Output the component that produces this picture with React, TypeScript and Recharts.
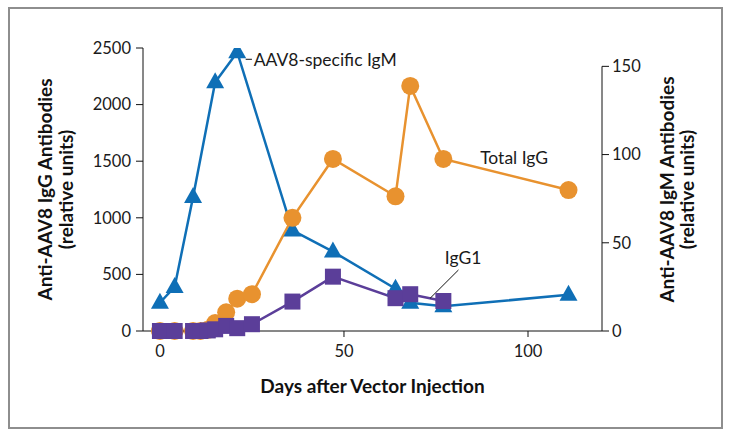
import React from "react";
import {
  LineChart, Line, XAxis, YAxis, ReferenceLine, ReferenceDot, Label,
} from "recharts";

// days after vector injection
const igmDays = [0, 4, 9, 15, 21, 36, 47, 64, 68, 77, 111];
const igmValues = [16, 25, 76, 141, 158, 57, 45, 24, 16, 14, 20.5];

const totalIgGDays = [0, 4, 9, 11, 13, 15, 18, 21, 25, 36, 47, 64, 68, 77, 111];
const totalIgGValues = [0, 0, 0, 0, 10, 70, 165, 285, 325, 1000, 1520, 1190, 2165, 1520, 1245];

const igg1Days = [0, 4, 9, 11, 13, 15, 18, 21, 25, 36, 47, 64, 68, 77];
const igg1Values = [0, 0, 0, 0, 5, 15, 45, 25, 60, 260, 480, 290, 325, 265];

const xTicks = [0, 50, 100];
const leftTicks = [0, 500, 1000, 1500, 2000, 2500];
const rightTicks = [0, 50, 100, 150];

const X_MIN = -4.6;
const X_MAX = 120.1;
const RIGHT_MAX = 160.4;

const BLUE = "#0f6fb6";
const ORANGE = "#e8922f";
const PURPLE = "#5b3e99";
const FONT = "Lato, 'Open Sans', sans-serif";

const igm = igmDays.map((d, i) => ({ day: d, value: igmValues[i] }));
const totalIgG = totalIgGDays.map((d, i) => ({ day: d, value: totalIgGValues[i] }));
const igg1 = igg1Days.map((d, i) => ({ day: d, value: igg1Values[i] }));

const Tri = (p: any) => {
  const { cx, cy } = p;
  if (cx == null || cy == null) return null;
  const pts = `${cx},${cy - 10} ${cx + 9},${cy + 6} ${cx - 9},${cy + 6}`;
  return <polygon key={`t${cx}`} points={pts} fill={BLUE} />;
};

const Dot = (p: any) => {
  const { cx, cy } = p;
  if (cx == null || cy == null) return null;
  return <circle key={`c${cx}`} cx={cx} cy={cy} r={9} fill={ORANGE} />;
};

const Sq = (p: any) => {
  const { cx, cy } = p;
  if (cx == null || cy == null) return null;
  return <rect key={`s${cx}`} x={cx - 8} y={cy - 8} width={16} height={16} fill={PURPLE} />;
};

const tickStyle = { fontSize: 16.5, fill: "#1a1a1a", fontFamily: FONT };
const titleStyle = { fontSize: 19, fontWeight: 700, fill: "#111", fontFamily: FONT };
const noteStyle = { fontSize: 17.5, fill: "#1a1a1a", fontFamily: FONT };

export default function App() {
  return (
    <div style={{ position: "absolute", left: 0, top: 0, width: 729, height: 438, background: "#fff" }}>
      <div
        style={{
          position: "absolute", left: 8, top: 7, width: 715, height: 422,
          border: "2px solid #8e8e8e", boxSizing: "border-box",
        }}
      />
      <LineChart
        width={729}
        height={438}
        margin={{ top: 48, right: 27, bottom: 45, left: 33 }}
        style={{ position: "absolute", left: 0, top: 0 }}
      >
        <XAxis
          type="number"
          dataKey="day"
          domain={[X_MIN, X_MAX]}
          allowDataOverflow
          ticks={xTicks}
          height={62}
          tickSize={6}
          tickMargin={8}
          tick={tickStyle}
          stroke="#111"
        >
          <Label value="Days after Vector Injection" position="insideBottom" offset={0} style={titleStyle} />
        </XAxis>
        <YAxis
          yAxisId="left"
          domain={[0, 2500]}
          ticks={leftTicks}
          width={110}
          tickSize={7}
          tickMargin={5}
          tick={tickStyle}
          stroke="#111"
        >
          <Label value="Anti-AAV8 IgG Antibodies" angle={-90} position="insideLeft" offset={12} style={{ ...titleStyle, textAnchor: "middle" }} />
          <Label value="(relative units)" angle={-90} position="insideLeft" offset={33} style={{ ...titleStyle, textAnchor: "middle" }} />
        </YAxis>
        <YAxis
          yAxisId="right"
          orientation="right"
          domain={[0, RIGHT_MAX]}
          allowDataOverflow
          ticks={rightTicks}
          width={100}
          axisLine={false}
          tickSize={7}
          tickMargin={3}
          tick={tickStyle}
          stroke="#111"
        >
          <Label value="Anti-AAV8 IgM Antibodies" angle={-90} position="insideRight" offset={35} style={{ ...titleStyle, textAnchor: "middle" }} />
          <Label value="(relative units)" angle={-90} position="insideRight" offset={15} style={{ ...titleStyle, textAnchor: "middle" }} />
        </YAxis>

        {/* right axis line only runs up to 150 */}
        <ReferenceLine
          yAxisId="right"
          segment={[{ x: X_MAX, y: 0 }, { x: X_MAX, y: 150 }]}
          stroke="#111"
          strokeWidth={1}
          ifOverflow="visible"
        />

        <Line
          yAxisId="right"
          data={igm}
          dataKey="value"
          stroke={BLUE}
          strokeWidth={2.5}
          dot={Tri}
          activeDot={false}
          isAnimationActive={false}
        />
        <Line
          yAxisId="left"
          data={totalIgG}
          dataKey="value"
          stroke={ORANGE}
          strokeWidth={2.5}
          dot={Dot}
          activeDot={false}
          isAnimationActive={false}
        />
        <Line
          yAxisId="left"
          data={igg1}
          dataKey="value"
          stroke={PURPLE}
          strokeWidth={2.5}
          dot={Sq}
          activeDot={false}
          isAnimationActive={false}
        />

        {/* annotations */}
        <ReferenceLine
          yAxisId="right"
          segment={[{ x: 23.3, y: 154 }, { x: 25.0, y: 154 }]}
          stroke="#111"
          ifOverflow="visible"
        />
        <ReferenceDot
          yAxisId="right"
          x={25.2}
          y={154}
          r={0}
          ifOverflow="visible"
          label={{ value: "AAV8-specific IgM", position: "right", offset: 1, style: noteStyle }}
        />
        <ReferenceDot
          yAxisId="left"
          x={87}
          y={1528}
          r={0}
          ifOverflow="visible"
          label={{ value: "Total IgG", position: "right", offset: 0, style: noteStyle }}
        />
        <ReferenceLine
          yAxisId="left"
          segment={[{ x: 81.1, y: 539 }, { x: 73.4, y: 289 }]}
          stroke="#111"
          ifOverflow="visible"
        />
        <ReferenceDot
          yAxisId="left"
          x={77.4}
          y={645}
          r={0}
          ifOverflow="visible"
          label={{ value: "IgG1", position: "right", offset: 0, style: noteStyle }}
        />
      </LineChart>
    </div>
  );
}
